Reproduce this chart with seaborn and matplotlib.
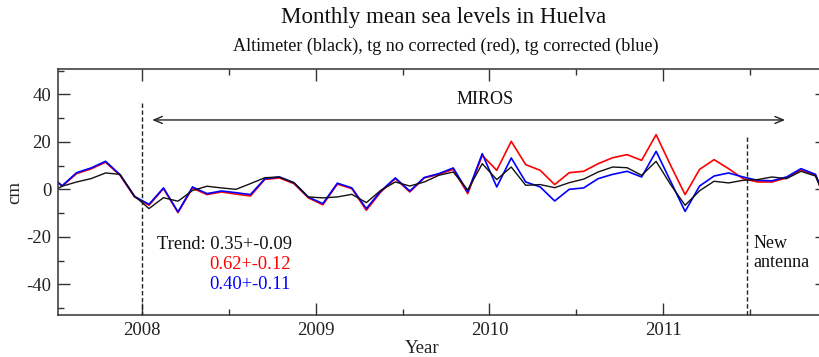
import numpy as np
import pandas as pd
import matplotlib
matplotlib.use("Agg")
import matplotlib.pyplot as plt
import seaborn as sns
from matplotlib.ticker import MultipleLocator, FixedLocator

# ---------------- data ----------------
start_month = "2007-06"
end_month = "2011-12"

altimeter = [-2.0, 1.3, 3.1, 4.5, 6.9, 6.3, -2.8,
             -8.1, -3.5, -5.0, -0.5, 1.3, 0.6, 0.0, 2.4, 4.9, 5.2, 2.8, -3.2,
             -3.6, -3.2, -2.1, -5.6, -0.4, 3.1, 1.4, 3.1, 5.9, 7.3, -0.3, 10.8,
             4.1, 9.4, 1.7, 2.0, 0.7, 2.8, 4.3, 7.3, 9.4, 9.1, 5.9, 11.8,
             2.0, -6.7, -0.6, 3.4, 2.7, 3.8, 4.1, 5.2, 4.5, 7.6, 5.6, -9.0]

tg_no_corrected = [6.5, 1.3, 6.6, 8.6, 11.4, 5.9, -3.2,
                   -6.7, 0.3, -9.8, 0.5, -2.2, -1.1, -2.0, -2.8, 4.2, 4.8, 2.4, -3.6,
                   -6.5, 2.2, 0.3, -8.8, -1.1, 4.5, -1.1, 4.8, 6.3, 8.4, -1.8, 14.3,
                   8.0, 20.2, 10.4, 8.0, 2.0, 7.0, 7.6, 10.8, 13.3, 14.6, 12.2, 23.0,
                   10.1, -2.2, 8.4, 12.5, 8.7, 4.5, 3.1, 3.1, 4.8, 8.3, 5.9, -9.0]

tg_corrected = [6.8, 1.5, 7.0, 9.0, 11.8, 6.2, -3.0,
                -6.3, 0.6, -9.5, 1.0, -1.8, -0.7, -1.4, -2.2, 4.5, 5.2, 2.8, -3.3,
                -6.0, 2.6, 0.6, -8.1, -0.7, 4.8, -0.7, 5.0, 6.6, 9.0, -1.1, 15.0,
                1.0, 13.2, 3.1, 1.0, -4.9, 0.0, 0.6, 4.5, 6.3, 7.6, 5.2, 16.0,
                3.4, -9.3, 1.4, 5.6, 6.9, 5.2, 3.8, 3.6, 5.2, 8.7, 6.3, -8.5]

year_ticks = [2008, 2009, 2010, 2011]
year_labels = ["2008", "2009", "2010", "2011"]
cm_ticks = [-40, -20, 0, 20, 40]
cm_labels = ["-40", "-20", "0", "20", "40"]

trend_labels = ["Trend: 0.35+-0.09", "0.62+-0.12", "0.40+-0.11"]
event_dates = [2008.0, 2011.48]

# -------------- build table --------------
months = pd.period_range(start_month, end_month, freq="M")
t = months.year + (months.month - 0.5) / 12.0
df = pd.DataFrame({"t": t, "alt": altimeter, "red": tg_no_corrected,
                   "blue": tg_corrected})

# -------------- style --------------
sns.set_style("ticks")
plt.rcParams["font.family"] = ["Liberation Serif", "DejaVu Serif"]
plt.rcParams["axes.unicode_minus"] = False

fig = plt.figure(figsize=(8.2, 3.57), dpi=100)
ax = fig.add_axes([0.0711, 0.1176, 0.9374, 0.6891])

sns.lineplot(data=df, x="t", y="red", color="#ff0000", lw=1.2, ax=ax)
sns.lineplot(data=df, x="t", y="blue", color="#0000ff", lw=1.2, ax=ax)
sns.lineplot(data=df, x="t", y="alt", color="#111111", lw=1.0, ax=ax)

ax.set_xlim(2007.52, 2011.941)
ax.set_ylim(-52.9, 50.65)

ax.xaxis.set_major_locator(FixedLocator(year_ticks))
ax.set_xticklabels(year_labels)
ax.xaxis.set_minor_locator(MultipleLocator(0.5))
ax.yaxis.set_major_locator(FixedLocator(cm_ticks))
ax.set_yticklabels(cm_labels)
ax.yaxis.set_minor_locator(MultipleLocator(10))

ax.tick_params(which="both", direction="in", top=True, right=True,
               color="#333333", labelcolor="#222222")
ax.tick_params(which="major", length=8.5, width=1.0, labelsize=13.5, pad=5)
ax.tick_params(which="minor", length=4.3, width=1.0)
for s in ax.spines.values():
    s.set_color("#333333")
    s.set_linewidth(1.1)

ax.set_xlabel("Year", fontsize=13.5, color="#222222")
ax.xaxis.set_label_coords(0.4735, -0.10)
ax.set_ylabel("cm", fontsize=13.5, color="#222222")
ax.yaxis.set_label_coords(-0.057, 0.5)
ax.yaxis.label.set_va("center")

# vertical dashed markers
ax.plot([event_dates[0], event_dates[0]], [36.3, -52.9], color="#222222",
        lw=1.0, dashes=(3.2, 1.8), zorder=3)
ax.plot([event_dates[1], event_dates[1]], [22.0, -52.9], color="#222222",
        lw=1.0, dashes=(3.2, 1.8), zorder=3)

# MIROS arrow
ax.annotate("", xy=(2008.06, 29.2), xytext=(2011.70, 29.2),
            arrowprops=dict(arrowstyle="<->, head_length=0.6, head_width=0.25",
                            lw=1.0, color="#222222", shrinkA=0, shrinkB=0))
ax.text(2009.974, 38.0, "MIROS", fontsize=13, ha="center", va="center",
        color="#111111")

# trend text
ax.text(2008.088, -23.2, trend_labels[0], fontsize=13.3, ha="left",
        va="center", color="#111111")
ax.text(2008.389, -31.6, trend_labels[1], fontsize=13.3, ha="left",
        va="center", color="#ff0000")
ax.text(2008.389, -40.0, trend_labels[2], fontsize=13.3, ha="left",
        va="center", color="#0000ff")

ax.text(2011.516, -22.9, "New", fontsize=13, ha="left", va="center",
        color="#111111")
ax.text(2011.516, -31.0, "antenna", fontsize=13, ha="left", va="center",
        color="#111111")

# titles
fig.text(0.5415, 0.9496, "Monthly mean sea levels in Huelva", fontsize=16.6,
         ha="center", va="center", color="#111111")
fig.text(0.5435, 0.871,
         "Altimeter (black), tg no corrected (red), tg corrected (blue)",
         fontsize=13.1, ha="center", va="center", color="#111111")

fig.savefig("out.png", dpi=100)
